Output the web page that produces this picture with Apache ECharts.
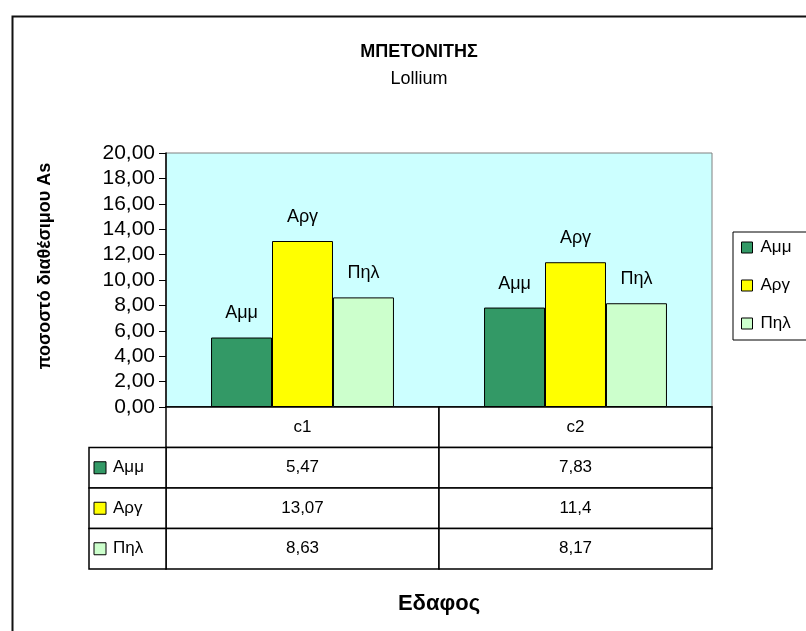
<!DOCTYPE html>
<html>
<head>
<meta charset="utf-8">
<script src="https://cdn.jsdelivr.net/npm/echarts@6/dist/echarts.min.js"></script>
<style>
html,body{margin:0;padding:0;background:#fff;}
#chart{width:806px;height:631px;}
</style>
</head>
<body>
<div id="chart"></div>
<script>
// ---- data ----
const categories = ['c1', 'c2'];
const seriesNames = ['Αμμ', 'Αργ', 'Πηλ'];
const ammValues = [5.47, 7.83];
const argValues = [13.07, 11.4];
const pilValues = [8.63, 8.17];
const yTicks = { min: 0, max: 20, interval: 2 };
const titleText = 'ΜΠΕΤΟΝΙΤΗΣ';
const subtitleText = 'Lollium';
const yAxisTitle = 'ποσοστό διαθέσιμου As';
const xAxisTitle = 'Εδαφος';

const seriesValues = [ammValues, argValues, pilValues];
const colors = ['#339966', '#ffff00', '#ccffcc'];
const FONT = '"Liberation Sans", Arial, sans-serif';

const fmtTick = v => v.toFixed(2).replace('.', ',');
const fmtCell = v => String(v).replace('.', ',');

// table rows: header row (index 0) + one row per series
const tableRows = ['hdr'].concat(seriesNames);
const tableCells = [];
categories.forEach((c, ci) => {
  tableCells.push([ci, 0, c]);
  seriesValues.forEach((vals, si) => tableCells.push([ci, si + 1, fmtCell(vals[ci])]));
});
const rowLabelCells = seriesNames.map((n, si) => [0, si + 1, n, colors[si]]);

const chart = echarts.init(document.getElementById('chart'));

const barSeries = seriesNames.map((name, si) => ({
  name: name,
  type: 'bar',
  xAxisIndex: 0,
  yAxisIndex: 0,
  data: seriesValues[si],
  barGap: '0%',
  barCategoryGap: '33%',
  itemStyle: { color: colors[si], borderColor: '#000', borderWidth: 1 },
  label: {
    show: true,
    position: 'top',
    distance: 15,
    formatter: p => p.seriesName,
    fontFamily: FONT,
    fontSize: 18,
    color: '#000'
  },
  emphasis: { disabled: true }
}));

const option = {
  animation: false,
  backgroundColor: '#fff',
  title: {
    text: titleText,
    subtext: subtitleText,
    left: 414,
    textAlign: 'center',
    top: 38,
    itemGap: 9,
    textStyle: { fontFamily: FONT, fontSize: 18, fontWeight: 'bold', color: '#000' },
    subtextStyle: { fontFamily: FONT, fontSize: 18, color: '#000' }
  },
  legend: {
    orient: 'vertical',
    left: 733,
    top: 232,
    padding: [7, 40, 8, 8],
    itemGap: 21,
    itemWidth: 11,
    itemHeight: 11,
    icon: 'rect',
    borderColor: '#000',
    borderWidth: 1,
    backgroundColor: '#fff',
    itemStyle: { borderColor: '#000', borderWidth: 1 },
    textStyle: { fontFamily: FONT, fontSize: 17, color: '#000', padding: [0, 0, 0, 3] },
    data: seriesNames
  },
  grid: [
    {
      left: 166, top: 153, width: 546, height: 254,
      show: true, backgroundColor: '#ccffff', borderColor: '#808080', borderWidth: 1
    },
    {
      left: 166, top: 407, width: 546, height: 162
    }
  ],
  xAxis: [
    {
      type: 'category', gridIndex: 0, data: categories,
      axisLine: { lineStyle: { color: '#000', width: 1.5 } },
      axisTick: { show: false },
      axisLabel: { show: false }
    },
    {
      type: 'category', gridIndex: 1, data: categories,
      axisLine: { show: false }, axisTick: { show: false }, axisLabel: { show: false },
      name: xAxisTitle, nameLocation: 'middle', nameGap: 24,
      nameTextStyle: { fontFamily: FONT, fontSize: 22, fontWeight: 'bold', color: '#000' }
    }
  ],
  yAxis: [
    {
      type: 'value', gridIndex: 0,
      min: yTicks.min, max: yTicks.max, interval: yTicks.interval,
      axisLine: { show: true, lineStyle: { color: '#000', width: 1.5 } },
      axisTick: { show: true, length: 7, lineStyle: { color: '#000' } },
      splitLine: { show: false },
      axisLabel: { fontFamily: FONT, fontSize: 21, color: '#000', margin: 11, formatter: fmtTick },
      name: yAxisTitle, nameLocation: 'middle', nameRotate: 90, nameGap: 112,
      nameTextStyle: { fontFamily: FONT, fontSize: 18, fontWeight: 'bold', color: '#000', padding: [0, 0, 0, 28] }
    },
    {
      type: 'category', gridIndex: 1, data: tableRows, inverse: true,
      axisLine: { show: false }, axisTick: { show: false }, axisLabel: { show: false }
    }
  ],
  series: barSeries.concat([
    {
      type: 'custom',
      name: 'tableCells',
      xAxisIndex: 1, yAxisIndex: 1,
      data: tableCells,
      silent: true,
      renderItem: (params, api) => {
        const c = api.coord([api.value(0), api.value(1)]);
        const s = api.size([1, 1]);
        return {
          type: 'group',
          children: [
            { type: 'rect', shape: { x: c[0] - s[0] / 2, y: c[1] - s[1] / 2, width: s[0], height: s[1] },
              style: { fill: '#fff', stroke: '#000', lineWidth: 1.5 } },
            { type: 'text', x: c[0], y: c[1],
              style: { text: api.value(2), fill: '#000', font: '17px ' + FONT, align: 'center', verticalAlign: 'middle' } }
          ]
        };
      }
    },
    {
      type: 'custom',
      name: 'rowLabels',
      xAxisIndex: 1, yAxisIndex: 1,
      data: rowLabelCells,
      silent: true,
      renderItem: (params, api) => {
        const c = api.coord([api.value(0), api.value(1)]);
        const s = api.size([1, 1]);
        const x0 = params.coordSys.x - 77;
        const y0 = c[1] - s[1] / 2;
        return {
          type: 'group',
          children: [
            { type: 'rect', shape: { x: x0, y: y0, width: 77, height: s[1] },
              style: { fill: '#fff', stroke: '#000', lineWidth: 1.5 } },
            { type: 'rect', shape: { x: x0 + 5, y: c[1] - 6, width: 12, height: 12 },
              style: { fill: rowLabelCells[params.dataIndex][3], stroke: '#000', lineWidth: 1 } },
            { type: 'text', x: x0 + 24, y: c[1],
              style: { text: api.value(2), fill: '#000', font: '17px ' + FONT, align: 'left', verticalAlign: 'middle' } }
          ]
        };
      }
    }
  ]),
  graphic: [
    { type: 'rect', left: 10, top: 14, shape: { width: 830, height: 700 },
      style: { fill: 'none', stroke: '#111', lineWidth: 2 }, silent: true, z: 100 }
  ]
};

chart.setOption(option);
</script>
</body>
</html>
